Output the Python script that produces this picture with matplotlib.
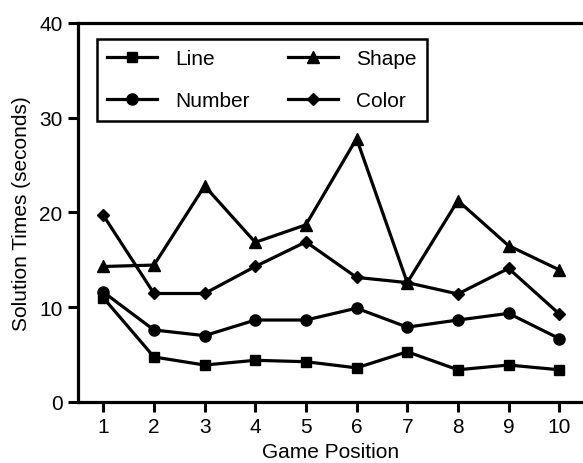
import matplotlib.pyplot as plt

plt.rcParams['font.family'] = ['Liberation Sans', 'DejaVu Sans']

positions = [1, 2, 3, 4, 5, 6, 7, 8, 9, 10]
line_times = [11.0, 4.75, 3.9, 4.4, 4.25, 3.6, 5.3, 3.4, 3.9, 3.4]
number_times = [11.6, 7.6, 7.0, 8.65, 8.65, 9.9, 7.9, 8.65, 9.35, 6.7]
shape_times = [14.3, 14.45, 22.8, 16.85, 18.7, 27.8, 12.6, 21.25, 16.5, 13.95]
color_times = [19.7, 11.45, 11.45, 14.3, 16.9, 13.15, 12.6, 11.4, 14.1, 9.3]

fig = plt.figure(figsize=(5.83, 4.64), dpi=100)
ax = fig.add_axes([0.1338, 0.1315, 0.8662, 0.8168])

lw = 2.3
ax.plot(positions, line_times, '-s', color='black', lw=lw, ms=7.5, label='Line')
ax.plot(positions, number_times, '-o', color='black', lw=lw, ms=8, label='Number')
ax.plot(positions, shape_times, '-^', color='black', lw=lw, ms=8, label='Shape')
ax.plot(positions, color_times, '-D', color='black', lw=lw, ms=6, label='Color')

ax.set_xlim(0.5, 10.47)
ax.set_ylim(0, 40)
ax.set_xticks(positions)
ax.set_yticks([0, 10, 20, 30, 40])
ax.tick_params(direction='out', length=7, width=2.2, labelsize=15, color='black', pad=4)
ax.spines['right'].set_visible(False)
for side in ['left', 'top', 'bottom']:
    ax.spines[side].set_linewidth(2.3)

ax.set_xlabel('Game Position', fontsize=15, labelpad=4)
ax.set_ylabel('Solution Times (seconds)', fontsize=15, labelpad=6)

leg = ax.legend(ncol=2, loc='upper left', bbox_to_anchor=(0.0376, 0.958),
                borderaxespad=0, fancybox=False, framealpha=1, fontsize=15,
                handlelength=2.4, handletextpad=0.87, labelspacing=1.1,
                columnspacing=1.8, borderpad=0.5)
leg.get_frame().set_edgecolor('black')
leg.get_frame().set_linewidth(1.8)

fig.savefig('out.png', dpi=100)
